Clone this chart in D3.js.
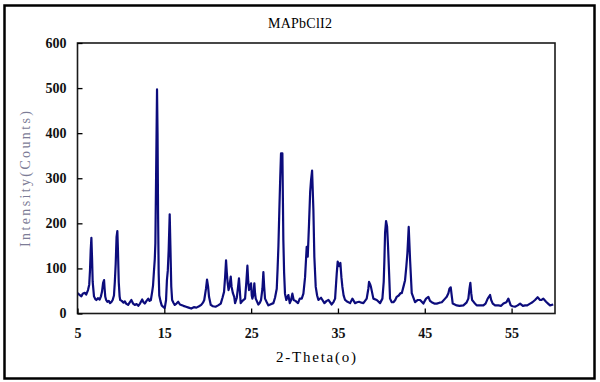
<!DOCTYPE html>
<html><head><meta charset="utf-8">
<script src="https://cdn.jsdelivr.net/npm/d3@7"></script>
<style>body{margin:0;background:#fff}svg{display:block}</style>
</head><body><svg id="c" width="600" height="382"></svg>
<script>
const chartTitle = "MAPbClI2";
const xTitle = "2-Theta(o)";
const yTitle = "Intensity(Counts)";
const xTicks = [5, 15, 25, 35, 45, 55];
const yTicks = [0, 100, 200, 300, 400, 500, 600];
const twoTheta = [5.0,5.2,5.45,5.6,5.83,6.0,6.21,6.35,6.44,6.52,6.6,6.68,6.75,6.9,7.05,7.17,7.35,7.55,7.7,7.82,7.95,8.06,8.12,8.2,8.3,8.43,8.6,8.75,8.89,9.05,9.2,9.3,9.4,9.5,9.59,9.66,9.75,9.85,9.92,10.1,10.3,10.45,10.6,10.83,11.0,11.2,11.4,11.6,11.8,12.0,12.2,12.45,12.6,12.75,12.95,13.15,13.3,13.45,13.6,13.7,13.8,13.9,13.97,14.05,14.16,14.22,14.28,14.35,14.42,14.55,14.7,14.85,15.05,15.2,15.3,15.4,15.5,15.62,15.7,15.8,15.9,16.05,16.2,16.4,16.6,16.8,16.95,17.2,17.5,17.8,18.1,18.4,18.7,19.0,19.25,19.45,19.6,19.8,19.92,20.04,20.15,20.35,20.6,20.9,21.2,21.5,21.7,21.88,22.0,22.11,22.2,22.3,22.4,22.5,22.65,22.75,22.9,23.05,23.15,23.35,23.5,23.6,23.7,23.8,24.0,24.3,24.45,24.57,24.67,24.76,24.88,24.99,25.07,25.14,25.25,25.37,25.45,25.53,25.83,26.0,26.14,26.3,26.41,26.5,26.6,26.8,26.99,27.2,27.56,27.75,27.95,28.05,28.14,28.25,28.35,28.44,28.6,28.66,28.71,28.8,28.9,29.05,29.29,29.45,29.6,29.75,29.9,30.1,30.4,30.6,30.83,31.02,31.21,31.4,31.52,31.67,31.8,31.9,32.02,32.17,32.28,32.44,32.6,32.75,33.05,33.44,33.7,33.9,34.28,34.5,34.67,34.86,34.97,35.13,35.28,35.4,35.51,35.65,35.82,36.1,36.4,36.66,36.97,37.2,37.43,37.7,37.93,38.31,38.5,38.58,38.7,38.8,39.08,39.47,39.85,40.12,40.27,40.35,40.43,40.54,40.66,40.77,40.89,41.0,41.2,41.39,41.6,41.77,42.0,42.2,42.35,42.54,42.73,42.88,43.0,43.15,43.31,43.5,43.88,44.2,44.46,44.84,45.0,45.15,45.42,45.6,45.8,46.1,46.38,46.7,46.96,47.34,47.53,47.72,47.84,47.99,48.1,48.22,48.45,48.68,49.0,49.45,49.8,50.02,50.15,50.25,50.35,50.45,50.7,50.98,51.3,51.75,52.0,52.25,52.52,52.65,52.83,53.1,53.48,53.8,54.06,54.4,54.63,54.9,55.1,55.4,55.7,55.98,56.3,56.55,56.8,57.13,57.4,57.7,58.0,58.28,58.45,58.66,58.97,59.2,59.43,59.8,60.0];
const intensity = [45,42,38,44,46,42,52,64,96,140,168,120,70,38,32,30,34,31,38,48,68,74,56,37,30,26,28,23,25,30,40,70,110,170,183,140,70,38,30,28,24,27,22,19,24,30,22,19,21,17,22,31,25,22,28,33,28,30,48,62,92,120,156,300,497,400,223,89,40,28,18,15,12,30,74,95,140,220,150,60,30,24,19,22,26,20,19,17,15,13,11,14,13,16,19,24,30,55,75,60,37,19,16,15,18,22,35,48,80,118,90,67,52,60,82,59,45,37,23,35,60,78,50,23,28,33,70,106,70,52,60,67,40,33,40,67,45,33,20,24,30,55,92,60,33,25,18,20,23,35,55,100,148,230,300,355,355,250,163,90,44,30,41,23,30,44,30,28,23,33,33,44,80,148,126,200,270,296,317,230,126,59,40,30,35,23,28,30,20,26,33,89,115,105,112,80,59,40,30,26,23,33,23,25,26,24,23,33,55,70,65,59,33,30,23,33,70,119,180,205,193,148,90,33,25,25,30,37,40,45,45,59,74,105,134,192,118,45,25,30,30,22,28,33,37,28,25,22,22,24,25,33,37,45,55,58,40,22,20,18,17,18,24,33,55,68,45,30,24,18,18,18,22,33,41,30,22,18,18,17,22,25,33,18,16,15,18,22,17,18,18,22,25,30,36,30,30,33,26,22,18,20];

const W = 600, H = 382;
const L = 77.5, R = 555, T = 43, B = 313.5;
const svg = d3.select("#c");
const serif = "'Liberation Serif','DejaVu Serif',serif";

// outer frame
svg.append("rect").attr("x", 4.5).attr("y", 5.5).attr("width", 590).attr("height", 373)
  .attr("fill", "#fff").attr("stroke", "#000").attr("stroke-width", 2.5);

const x = d3.scaleLinear().domain([5, 60]).range([L, R]);
const y = d3.scaleLinear().domain([0, 600]).range([B, T]);

svg.append("defs").append("clipPath").attr("id", "clip")
  .append("rect").attr("x", L).attr("y", T).attr("width", R - L).attr("height", B - T);

const pts = twoTheta.map((t, i) => [t, intensity[i]]);
svg.append("path").datum(pts)
  .attr("clip-path", "url(#clip)")
  .attr("fill", "none").attr("stroke", "#0c0c7c").attr("stroke-width", 2.2)
  .attr("stroke-linejoin", "round")
  .attr("d", d3.line().x(d => x(d[0])).y(d => y(d[1])));

// plot border
svg.append("rect").attr("x", L).attr("y", T).attr("width", R - L).attr("height", B - T)
  .attr("fill", "none").attr("stroke", "#1a1a1a").attr("stroke-width", 1.6);

// axes (ticks inside)
const xAxis = d3.axisBottom(x).tickValues(xTicks).tickSizeInner(-5).tickSizeOuter(0).tickPadding(15);
const gx = svg.append("g").attr("transform", `translate(0,${B})`).call(xAxis);
gx.select(".domain").remove();
gx.selectAll("line").attr("stroke", "#000").attr("stroke-width", 1.3);
gx.selectAll("text").attr("font-family", serif).attr("font-size", 14).attr("font-weight", "bold").attr("fill", "#111");

const yAxis = d3.axisLeft(y).tickValues(yTicks).tickSizeInner(-5).tickSizeOuter(0).tickPadding(11);
const gy = svg.append("g").attr("transform", `translate(${L},0)`).call(yAxis);
gy.select(".domain").remove();
gy.selectAll("line").attr("stroke", "#000").attr("stroke-width", 1.3);
gy.selectAll("text").attr("font-family", serif).attr("font-size", 14).attr("font-weight", "bold").attr("fill", "#111");

// titles
svg.append("text").attr("x", 300).attr("y", 28).attr("text-anchor", "middle")
  .attr("font-family", serif).attr("font-size", 14).attr("textLength", 64).attr("lengthAdjust", "spacing")
  .text(chartTitle);
svg.append("text").attr("x", 316).attr("y", 362).attr("text-anchor", "middle")
  .attr("font-family", serif).attr("font-size", 15).attr("textLength", 80).attr("lengthAdjust", "spacing")
  .text(xTitle);
svg.append("text").attr("transform", "translate(30,179) rotate(-90)").attr("text-anchor", "middle")
  .attr("font-family", serif).attr("font-size", 14).attr("fill", "#7c7c96")
  .attr("textLength", 136).attr("lengthAdjust", "spacing")
  .text(yTitle);
</script></body></html>
